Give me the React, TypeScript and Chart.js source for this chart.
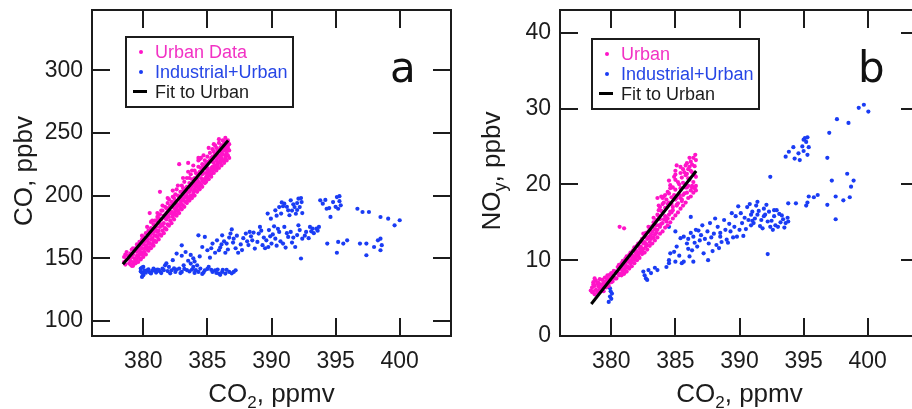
import React, { useEffect, useRef } from 'react';
import { Chart, registerables } from 'chart.js';

Chart.register(...registerables);

// ---------- data ----------
const xTickValues = [380, 385, 390, 395, 400];
const yTickValuesA = [100, 150, 200, 250, 300];
const yTickValuesB = [0, 10, 20, 30, 40];

const legendLabelsA = ['Urban Data', 'Industrial+Urban', 'Fit to Urban'];
const legendLabelsB = ['Urban', 'Industrial+Urban', 'Fit to Urban'];

const fitA: [number, number][] = [[378.41, 145.2], [386.62, 243.9]];
const fitB: [number, number][] = [[378.44, 4.22], [386.62, 21.77]];

const urbanA: [number, number][] = [
  [378.5, 147], [378.5, 151], [378.6, 153], [378.6, 145], [378.7, 149], [378.7, 155], [378.8, 152], [378.9, 146],
  [378.9, 150], [379.0, 154], [379.0, 148], [379.1, 157], [379.1, 151], [379.2, 147], [379.2, 153], [379.3, 156],
  [379.3, 150], [379.4, 158], [379.5, 152], [379.5, 155], [379.6, 160], [379.6, 157], [379.7, 156], [379.7, 163],
  [379.8, 159], [379.9, 165], [380.0, 161], [380.0, 167], [380.1, 163], [380.2, 170], [380.3, 166], [380.3, 164],
  [380.4, 172], [380.5, 168], [380.5, 186], [380.6, 174], [380.7, 170], [380.8, 177], [380.8, 171], [380.9, 173],
  [381.0, 180], [381.0, 175], [381.1, 183], [381.2, 178], [381.2, 182], [381.3, 203], [381.3, 185], [381.4, 181],
  [381.5, 188], [381.6, 184], [381.7, 191], [381.8, 186], [381.8, 190], [381.9, 194], [381.9, 189], [382.0, 197],
  [382.1, 192], [382.2, 187], [382.3, 199], [382.3, 194], [382.4, 190], [382.4, 198], [382.5, 201], [382.5, 196],
  [382.6, 205], [382.6, 191], [382.7, 193], [382.8, 199], [382.8, 225], [382.9, 203], [383.0, 208], [383.0, 197],
  [383.1, 201], [383.1, 206], [383.2, 211], [383.2, 205], [383.3, 199], [383.3, 203], [383.4, 214], [383.4, 207],
  [383.5, 226], [383.5, 203], [383.6, 210], [383.6, 214], [383.7, 217], [383.7, 205], [383.8, 213], [383.9, 209],
  [384.0, 220], [384.0, 214], [384.1, 207], [384.1, 218], [384.2, 217], [384.2, 213], [384.3, 223], [384.3, 211],
  [384.4, 219], [384.4, 229], [384.5, 230], [384.5, 214], [384.6, 225], [384.6, 221], [384.7, 218], [384.8, 228],
  [384.8, 222], [384.9, 215], [384.9, 226], [385.0, 231], [385.0, 225], [385.1, 219], [385.1, 227], [385.2, 234],
  [385.2, 228], [385.3, 222], [385.4, 237], [385.4, 231], [385.5, 226], [385.5, 235], [385.6, 240], [385.6, 233],
  [385.7, 228], [385.7, 238], [385.8, 236], [385.9, 242], [385.9, 231], [386.0, 238], [386.0, 232], [386.1, 234],
  [386.2, 244], [386.2, 240], [386.3, 236], [386.3, 243], [386.4, 246], [386.5, 241], [386.5, 237], [386.6, 244],
  [379.0, 145], [379.1, 144], [379.2, 158], [379.3, 146], [379.4, 148], [379.5, 149], [379.6, 151], [379.7, 153],
  [379.8, 150], [379.8, 155], [379.9, 158], [379.9, 153], [380.0, 155], [380.1, 158], [380.2, 160], [380.3, 159],
  [380.4, 162], [380.5, 162], [380.6, 165], [380.6, 179], [380.7, 166], [380.8, 163], [380.9, 168], [380.9, 180],
  [381.0, 168], [381.1, 171], [381.2, 172], [381.3, 175], [381.4, 188], [381.5, 176], [381.6, 178], [381.7, 182],
  [381.8, 181], [381.9, 184], [382.0, 183], [382.0, 190], [382.1, 186], [382.2, 195], [382.3, 185], [382.4, 186],
  [382.5, 188], [382.6, 190], [382.7, 200], [382.7, 188], [382.8, 192], [382.9, 195], [383.0, 193], [383.0, 203],
  [383.1, 196], [383.2, 198], [383.3, 195], [383.4, 200], [383.5, 198], [383.6, 203], [383.7, 200], [383.8, 207],
  [383.8, 220], [383.9, 203], [384.0, 205], [384.1, 210], [384.2, 208], [384.3, 206], [384.3, 228], [384.4, 210],
  [384.5, 208], [384.5, 222], [384.6, 212], [384.7, 213], [384.7, 224], [384.8, 210], [384.9, 218], [385.0, 214],
  [385.0, 220], [385.1, 216], [385.2, 220], [385.3, 230], [385.3, 217], [385.4, 223], [385.5, 221], [385.5, 230],
  [385.6, 224], [385.7, 222], [385.8, 230], [385.8, 226], [385.9, 236], [386.0, 228], [386.1, 240], [386.1, 230],
  [386.2, 233], [386.3, 228], [386.4, 238], [386.4, 232], [386.5, 234], [386.6, 238], [386.7, 236], [386.7, 241],
  [379.2, 144], [379.4, 146], [379.6, 147], [379.8, 149], [380.0, 151], [380.1, 155], [380.2, 153], [380.3, 157],
  [380.4, 156], [380.5, 159], [380.6, 158], [380.7, 161], [380.8, 160], [380.9, 164], [381.0, 163], [381.1, 167],
  [381.2, 165], [381.3, 169], [381.4, 168], [381.5, 172], [381.6, 170], [381.7, 174], [381.8, 173], [381.9, 177],
  [382.0, 176], [382.1, 180], [382.2, 178], [382.3, 183], [382.4, 181], [382.5, 185], [382.6, 184], [382.7, 187],
  [382.8, 186], [382.9, 190], [383.0, 189], [383.1, 192], [383.2, 191], [383.3, 195], [383.4, 194], [383.5, 197],
  [383.6, 196], [383.7, 199], [383.8, 198], [383.9, 201], [384.0, 200], [384.1, 204], [384.2, 203], [384.3, 207],
  [384.4, 205], [384.5, 209], [384.6, 207], [384.7, 211], [384.8, 213], [384.9, 211], [385.0, 216], [385.1, 213],
  [385.2, 218], [385.3, 215], [385.4, 220], [385.5, 218], [385.6, 222], [385.7, 220], [385.8, 224], [385.9, 222],
  [386.0, 226], [386.1, 224], [386.2, 228], [386.3, 226], [386.4, 230], [386.5, 228], [386.6, 232], [386.7, 230],
  [380.2, 165], [380.6, 169], [381.0, 172], [381.4, 177], [381.8, 182], [382.2, 186], [382.6, 193], [383.0, 198],
  [383.4, 203], [383.8, 209], [384.2, 212], [384.6, 217], [385.0, 222], [385.4, 227], [385.8, 232], [386.2, 237],
  [386.6, 240],
  [379.5, 161], [379.9, 168], [380.3, 175], [380.7, 180], [381.1, 186], [381.5, 192], [381.9, 198], [382.3, 204],
  [382.7, 208], [383.1, 214], [383.5, 219], [383.9, 224], [384.3, 230], [384.7, 232], [385.1, 238], [385.5, 241],
  [385.9, 245],
];

const industrialA: [number, number][] = [
  [379.8, 141.8], [379.9, 135.1], [380.0, 143.1], [379.9, 138.5], [380.0, 136.5], [379.8, 139.5], [380.1, 140.2],
  [380.0, 137.8], [379.9, 142.5],
  [380.3, 140.4], [380.7, 139.9], [381.1, 141.0], [381.5, 141.8], [381.7, 144.4], [382.0, 143.1], [382.2, 140.4],
  [382.5, 139.1], [382.8, 141.8], [383.0, 139.1], [383.15, 144.4], [383.7, 145.8], [383.9, 143.1], [384.2, 144.4],
  [384.3, 139.1], [384.45, 141.8], [384.8, 140.4], [385.1, 143.1], [385.4, 139.1], [385.6, 140.4], [385.9, 137.8],
  [386.15, 139.1], [386.4, 137.8], [386.7, 139.1], [387.05, 139.1], [387.2, 140.4],
  [380.5, 138.8], [380.9, 140.5], [381.3, 139.5], [382.4, 142.0], [383.4, 140.6], [384.0, 138.3], [385.0, 141.5],
  [385.8, 141.0], [386.0, 136.8], [386.5, 140.8], [381.9, 139.8], [384.6, 137.5],
  [380.2, 138.5], [380.4, 141.2], [380.6, 137.9], [380.8, 141.8], [381.0, 138.6], [381.2, 140.8], [381.4, 138.2],
  [381.6, 140.5], [382.1, 138.0], [382.6, 141.0], [382.9, 138.2], [383.2, 141.5], [383.6, 139.5], [383.8, 141.0],
  [384.1, 140.5], [384.7, 138.6], [385.3, 140.8], [385.7, 138.3], [386.2, 140.8], [386.9, 138.0],
  [382.6, 153.7], [383.0, 152.0], [383.0, 160.3], [383.3, 155.0], [383.7, 152.7], [383.9, 150.0], [384.3, 168.3],
  [384.6, 159.0], [384.8, 167.0], [385.0, 156.4], [385.4, 161.7], [385.6, 154.4], [385.75, 164.3], [385.9, 156.4],
  [386.15, 168.3], [386.4, 154.4], [386.5, 161.7], [386.8, 169.7], [386.9, 173.0], [387.05, 165.6], [387.4, 154.4],
  [387.6, 161.0], [388.0, 169.7], [388.3, 171.0], [388.5, 164.3], [388.7, 157.7], [389.0, 169.7], [389.1, 175.0],
  [389.3, 160.4], [389.6, 164.3], [389.75, 159.0], [390.0, 161.7], [390.3, 165.6], [390.6, 171.0], [390.9, 161.7],
  [391.0, 175.0], [391.3, 167.0], [391.5, 171.0], [391.85, 159.0], [392.1, 176.3], [392.4, 165.6], [392.3, 149.8],
  [392.7, 171.0], [393.0, 175.0], [393.2, 173.6], [393.5, 173.6], [393.7, 175.0],
  [384.0, 147.5], [382.3, 148.5], [381.8, 146.0], [385.2, 150.5], [386.0, 158.5], [386.3, 163.5], [387.2, 158.0],
  [387.8, 166.0], [388.2, 160.5], [388.9, 163.0], [389.4, 166.5], [389.9, 167.5], [390.4, 160.0], [390.7, 163.5],
  [391.1, 158.5], [391.6, 162.5], [392.0, 168.5], [392.9, 166.0], [393.3, 170.0], [388.4, 167.5], [387.0, 162.5],
  [386.6, 157.0],
  [383.5, 148.0], [384.4, 151.5], [385.3, 158.0], [386.1, 161.0], [386.7, 166.5], [387.3, 168.0], [387.7, 156.5],
  [388.1, 163.5], [388.6, 170.5], [389.2, 172.0], [389.5, 158.0], [390.1, 169.0], [390.5, 173.5], [391.2, 170.0],
  [391.7, 166.5], [392.2, 172.5], [392.6, 168.0], [393.1, 171.5], [393.6, 172.0], [390.2, 175.5], [389.8, 172.5],
  [389.7, 185.6], [389.95, 181.6], [390.3, 188.2], [390.6, 190.8], [390.75, 185.6], [391.0, 193.5], [391.3, 188.2],
  [391.5, 196.2], [391.8, 190.8], [392.1, 197.5], [392.2, 190.8], [392.35, 194.8], [391.4, 184.3], [393.8, 196.2],
  [394.0, 193.5], [394.3, 189.5], [394.6, 183.0], [394.8, 194.8], [395.1, 198.8], [395.2, 189.5], [395.4, 192.2],
  [396.7, 189.5], [397.1, 186.9], [397.6, 186.9], [398.5, 182.9], [399.1, 181.6], [399.6, 176.3], [400.0, 180.3],
  [391.7, 193.0], [392.0, 188.5], [390.9, 191.5], [395.3, 195.5], [394.5, 190.0], [392.4, 186.0],
  [390.4, 184.0], [390.8, 194.5], [391.2, 191.0], [391.6, 188.0], [392.0, 194.0], [392.3, 198.0], [391.9, 185.5],
  [394.2, 196.5], [395.0, 191.0], [395.3, 199.5],
  [394.35, 161.7], [395.1, 154.4], [395.2, 163.0], [395.6, 161.7], [395.9, 164.3], [396.9, 161.7], [397.4, 161.7],
  [397.4, 152.4], [398.0, 159.0], [398.3, 164.3], [398.5, 165.6], [398.5, 156.4], [398.6, 160.4],
];

const urbanB: [number, number][] = [
  [378.5, 5.8], [378.5, 6.4], [378.6, 7.1], [378.6, 5.9], [378.7, 6.6], [378.7, 5.5], [378.8, 6.1], [378.8, 7.3],
  [378.9, 5.8], [379.0, 6.5], [379.0, 7.0], [379.1, 6.1], [379.2, 6.8], [379.2, 6.3], [379.3, 7.4], [379.3, 6.2],
  [379.4, 6.9], [379.5, 7.7], [379.5, 6.5], [379.6, 7.2], [379.7, 8.0], [379.8, 7.0], [379.9, 7.6], [380.0, 8.3],
  [380.0, 7.1], [380.1, 7.9], [380.2, 8.6], [380.3, 7.6], [380.4, 8.3], [380.5, 9.1], [380.6, 8.0], [380.65, 14.4],
  [380.7, 8.8], [380.8, 9.6], [380.9, 8.5], [381.0, 9.3], [381.0, 14.2], [381.1, 10.2], [381.2, 9.0], [381.3, 9.8],
  [381.4, 10.7], [381.5, 9.6], [381.6, 10.4], [381.7, 11.3], [381.8, 10.1], [381.9, 11.0], [382.0, 11.9],
  [382.0, 11.2], [382.1, 10.6], [382.2, 11.6], [382.3, 12.5], [382.4, 11.2], [382.5, 12.2], [382.6, 13.1],
  [382.7, 11.8], [382.8, 12.8], [382.9, 13.8], [383.0, 12.4], [383.0, 13.1], [383.1, 13.4], [383.2, 14.5],
  [383.3, 13.0], [383.4, 14.1], [383.5, 15.3], [383.5, 13.6], [383.6, 18.2], [383.6, 16.0], [383.7, 14.6],
  [383.7, 15.8], [383.8, 17.0], [383.8, 15.4], [383.9, 18.4], [384.0, 16.3], [384.0, 14.9], [384.0, 17.4],
  [384.1, 17.6], [384.2, 15.8], [384.2, 18.6], [384.3, 16.9], [384.3, 18.0], [384.4, 15.5], [384.4, 19.0],
  [384.5, 17.6], [384.5, 20.5], [384.6, 16.4], [384.7, 18.3], [384.8, 19.6], [384.8, 17.0], [384.9, 21.0],
  [385.0, 18.0], [385.0, 19.3], [385.0, 20.6], [385.1, 22.5], [385.1, 17.2], [385.2, 20.3], [385.3, 18.6],
  [385.4, 21.5], [385.4, 19.5], [385.5, 17.8], [385.6, 22.0], [385.6, 20.2], [385.7, 18.8], [385.8, 21.2],
  [385.9, 22.8], [385.9, 19.6], [386.0, 20.8], [386.0, 22.0], [386.1, 22.3], [386.2, 19.2], [386.2, 23.0],
  [386.3, 21.6], [386.3, 19.8], [386.4, 23.5], [386.5, 22.4], [386.5, 19.5], [386.55, 23.9], [386.6, 21.0],
  [378.4, 6.0], [378.6, 6.8], [378.7, 7.6], [378.9, 6.9], [379.0, 5.9], [379.1, 7.5], [379.3, 6.7], [379.4, 5.9],
  [379.5, 7.1], [379.6, 6.4], [379.7, 7.5], [379.8, 6.6], [379.9, 8.1], [380.0, 7.7], [380.1, 7.2], [380.2, 7.7],
  [380.3, 8.5], [380.4, 7.6], [380.5, 8.4], [380.6, 9.4], [380.7, 8.2], [380.8, 8.9], [380.9, 9.9], [381.0, 8.8],
  [381.1, 9.5], [381.2, 10.5], [381.3, 9.2], [381.4, 10.0], [381.5, 11.0], [381.6, 9.9], [381.7, 10.6],
  [381.8, 11.7], [381.9, 10.4], [382.0, 10.8], [382.1, 12.2], [382.2, 11.0], [382.3, 11.8], [382.4, 12.8],
  [382.5, 11.5], [382.6, 12.4], [382.7, 13.6], [382.8, 12.0], [382.9, 13.0], [383.0, 14.3], [383.1, 12.8],
  [383.2, 13.8], [383.3, 15.0], [383.4, 13.4], [383.5, 14.6], [383.6, 14.0], [383.7, 17.2], [383.8, 14.4],
  [383.9, 16.5], [384.0, 18.2], [384.1, 15.4], [384.2, 16.9], [384.3, 15.1], [384.4, 17.4], [384.5, 16.0],
  [384.5, 18.8], [384.6, 19.5], [384.7, 17.4], [384.8, 16.6], [384.9, 18.6], [385.0, 21.8], [385.1, 18.2],
  [385.2, 17.5], [385.3, 20.0], [385.4, 18.2], [385.5, 20.9], [385.6, 18.6], [385.7, 21.6], [385.8, 19.6],
  [385.9, 21.4], [386.0, 19.8], [386.1, 20.6], [386.2, 21.8], [386.3, 22.6], [386.4, 20.3], [386.5, 21.2],
  [386.6, 23.2], [386.6, 19.8],
  [380.8, 8.0], [381.0, 8.2], [381.2, 8.5], [381.4, 8.9], [381.6, 9.2], [381.8, 9.6], [382.0, 10.0], [382.2, 10.3],
  [382.4, 10.8], [382.6, 11.0], [382.8, 11.4], [383.0, 11.9], [383.2, 12.2], [383.4, 12.6], [383.6, 13.0],
  [383.8, 13.5], [384.0, 13.8], [384.2, 14.3], [384.4, 14.6], [384.6, 15.0], [384.8, 15.5], [385.0, 15.9],
  [385.2, 16.3], [385.4, 16.8], [385.6, 17.2], [385.8, 17.6], [386.0, 18.2], [386.2, 18.4], [386.4, 18.9],
  [386.6, 19.2],
  [381.1, 9.0], [381.5, 9.7], [381.9, 10.5], [382.3, 11.4], [382.7, 12.2], [383.1, 13.0], [383.5, 14.0],
  [383.9, 14.8], [384.3, 15.6], [384.7, 16.3], [385.1, 17.3], [385.5, 18.0], [385.9, 18.9], [386.3, 19.6],
  [382.5, 13.5], [382.9, 14.4], [383.3, 15.6], [383.7, 16.6], [384.1, 18.4], [384.6, 19.9], [385.0, 21.3],
  [385.4, 22.3], [385.8, 22.5], [386.1, 23.5],
];

const industrialB: [number, number][] = [
  [379.9, 6.3], [379.9, 5.2], [379.8, 4.5], [380.05, 5.6], [379.95, 5.9], [380.0, 4.9],
  [382.5, 8.5], [382.9, 8.7], [382.7, 7.6], [382.8, 7.4], [383.6, 8.7], [382.6, 8.0], [383.1, 8.3], [383.4, 9.0],
  [384.3, 9.1], [384.5, 10.0], [385.5, 9.6], [384.9, 11.1], [384.6, 10.9], [385.0, 9.8], [384.5, 9.6], [385.65, 9.8],
  [386.4, 9.8], [386.1, 10.5], [387.55, 10.0], [384.5, 14.4], [386.2, 15.7], [385.0, 13.8], [385.65, 13.1],
  [385.9, 12.2], [386.4, 13.1], [386.7, 11.8], [386.9, 12.6], [387.2, 10.9], [387.6, 12.2], [385.1, 11.8],
  [386.0, 12.8], [386.2, 13.6], [386.5, 12.3], [387.0, 13.3], [387.3, 12.8], [386.8, 13.9], [385.4, 12.9],
  [386.3, 11.3],
  [388.0, 13.5], [388.3, 14.4], [388.5, 13.1], [388.8, 15.3], [389.0, 12.7], [389.3, 13.8], [389.6, 14.4],
  [389.8, 13.1], [390.1, 16.2], [390.2, 14.9], [390.5, 14.1], [390.6, 17.0], [390.7, 15.3], [391.0, 16.4],
  [391.1, 14.9], [391.4, 16.0], [391.6, 14.5], [391.7, 15.3], [391.9, 16.8], [392.2, 15.1], [392.4, 14.4],
  [392.7, 15.8], [392.9, 16.6], [393.2, 15.0], [393.4, 15.4], [393.75, 15.6], [388.5, 13.6], [389.1, 12.3],
  [391.4, 17.7], [390.8, 17.4], [392.7, 16.6], [389.9, 17.1], [387.8, 13.0], [388.2, 12.0], [389.2, 14.8],
  [389.5, 13.0], [390.0, 14.0], [390.4, 15.6], [391.2, 15.5], [391.8, 14.2], [392.0, 16.0], [392.5, 15.2],
  [393.0, 14.4], [393.3, 15.9], [393.6, 14.9], [390.9, 16.0], [391.5, 16.5], [392.1, 17.3], [388.9, 14.0],
  [387.5, 13.8], [389.7, 15.8], [392.8, 14.6],
  [386.6, 14.0], [387.1, 14.6], [387.7, 14.9], [388.1, 15.5], [388.6, 12.4], [389.4, 16.2], [390.3, 13.2],
  [390.9, 14.6], [391.3, 17.2], [391.9, 15.8], [392.3, 16.4], [392.6, 14.0], [393.1, 16.1], [393.5, 14.3],
  [393.8, 15.1], [388.4, 11.6], [387.9, 11.2], [386.0, 11.5], [385.3, 10.6], [391.0, 15.2],
  [392.2, 10.8], [392.4, 21.0],
  [393.6, 23.65], [393.85, 24.3], [394.2, 24.9], [394.3, 23.4], [394.6, 24.1], [394.7, 23.2], [394.9, 25.0],
  [395.0, 25.9], [395.1, 26.1], [395.3, 26.2], [395.2, 25.6], [395.4, 24.9], [395.3, 23.9], [395.0, 24.4],
  [396.85, 23.5], [397.0, 26.8], [397.6, 28.6], [398.5, 28.1], [399.3, 30.1], [399.7, 30.5], [400.05, 29.6],
  [393.8, 17.5], [394.4, 17.5], [395.4, 18.4], [396.1, 18.6], [395.2, 17.2], [396.85, 17.3], [397.5, 18.4],
  [397.2, 20.5], [398.4, 21.4], [398.9, 20.5], [398.7, 19.7], [398.6, 18.3], [398.1, 17.9], [397.5, 15.4],
  [395.3, 17.6], [395.8, 18.3],
];

// ---------- styles ----------
const PINK = '#ff14c8';
const BLUE = '#1a3cf4';
const PINK_TEXT = '#f232c4';
const BLUE_TEXT = '#2646e6';
const INK = '#1c1c1c';
const SANS = '"Liberation Sans", Arial, Helvetica, sans-serif';
const TICK = 18;

type Part = [string, boolean];

interface PanelSpec {
  name: string;
  urban: [number, number][];
  industrial: [number, number][];
  fit: [number, number][];
  yMin: number;
  yMax: number;
  yTicks: number[];
  yAxisWidth: number;
  padRight: number;
  legend: string[];
  legendDx: number;
  legendDy: number;
  legendW: number;
  letter: string;
  yTitle: Part[];
}

function drawParts(ctx: CanvasRenderingContext2D, parts: Part[], cx: number, y: number, size: number, subSize: number, subDy: number) {
  const widths = parts.map(([t, sub]) => {
    ctx.font = `${sub ? subSize : size}px ${SANS}`;
    return ctx.measureText(t).width;
  });
  const total = widths.reduce((a, b) => a + b, 0);
  let x = cx - total / 2;
  ctx.textAlign = 'left';
  ctx.textBaseline = 'alphabetic';
  parts.forEach(([t, sub], i) => {
    ctx.font = `${sub ? subSize : size}px ${SANS}`;
    ctx.fillText(t, x, y + (sub ? subDy : 0));
    x += widths[i];
  });
}

function overlayPlugin(p: PanelSpec) {
  return {
    id: 'overlay' + p.name,
    afterDraw(chart: any) {
      const ctx: CanvasRenderingContext2D = chart.ctx;
      const ca = chart.chartArea;
      const xs = chart.scales.x;
      const ys = chart.scales.y;
      ctx.save();
      // frame
      ctx.strokeStyle = INK;
      ctx.lineWidth = 2;
      ctx.strokeRect(ca.left, ca.top, ca.right - ca.left, ca.bottom - ca.top);
      // inward ticks on all four sides
      ctx.beginPath();
      xs.ticks.forEach((t: any) => {
        const px = Math.round(xs.getPixelForValue(t.value));
        ctx.moveTo(px, ca.bottom);
        ctx.lineTo(px, ca.bottom - TICK);
        ctx.moveTo(px, ca.top);
        ctx.lineTo(px, ca.top + TICK);
      });
      ys.ticks.forEach((t: any) => {
        const py = Math.round(ys.getPixelForValue(t.value));
        ctx.moveTo(ca.left, py);
        ctx.lineTo(ca.left + TICK, py);
        ctx.moveTo(ca.right, py);
        ctx.lineTo(ca.right - TICK, py);
      });
      ctx.stroke();

      // legend
      const bx = ca.left + p.legendDx;
      const by = ca.top + p.legendDy;
      ctx.lineWidth = 2;
      ctx.strokeStyle = INK;
      ctx.strokeRect(bx, by, p.legendW, 70);
      const ds = chart.data.datasets;
      const rows = [
        { label: p.legend[0], color: PINK_TEXT, mark: ds[1].backgroundColor, line: false },
        { label: p.legend[1], color: BLUE_TEXT, mark: ds[2].backgroundColor, line: false },
        { label: p.legend[2], color: INK, mark: ds[0].borderColor, line: true },
      ];
      ctx.font = `18px ${SANS}`;
      ctx.textAlign = 'left';
      ctx.textBaseline = 'alphabetic';
      rows.forEach((r, i) => {
        const base = by + 21 + i * 20;
        if (r.line) {
          ctx.strokeStyle = r.mark;
          ctx.lineWidth = 3;
          ctx.beginPath();
          ctx.moveTo(bx + 7, base - 6.5);
          ctx.lineTo(bx + 21, base - 6.5);
          ctx.stroke();
        } else {
          ctx.fillStyle = r.mark;
          ctx.beginPath();
          ctx.arc(bx + 15, base - 6, 2, 0, Math.PI * 2);
          ctx.fill();
        }
        ctx.fillStyle = r.color;
        ctx.fillText(r.label, bx + 29, base);
      });

      // panel letter
      ctx.fillStyle = '#111';
      ctx.font = '42px "DejaVu Sans", Verdana, sans-serif';
      ctx.fillText(p.letter, ca.left + 298, ca.top + 72);

      // x title
      ctx.fillStyle = INK;
      drawParts(ctx, [['CO', false], ['2', true], [', ppmv', false]], (ca.left + ca.right) / 2, 402, 26, 17, 6);

      // y title (rotated)
      ctx.save();
      ctx.translate(ca.left - 60.5, (ca.top + ca.bottom) / 2 - 2);
      ctx.rotate(-Math.PI / 2);
      drawParts(ctx, p.yTitle, 0, 0, 26, 18, 6);
      ctx.restore();

      ctx.restore();
    },
  };
}

function makeChart(canvas: HTMLCanvasElement, p: PanelSpec) {
  const pts = (arr: [number, number][]) => arr.map(([x, y]) => ({ x, y }));
  return new Chart(canvas, {
    type: 'scatter',
    data: {
      datasets: [
        {
          label: p.legend[2],
          data: pts(p.fit),
          showLine: true,
          borderColor: '#000000',
          backgroundColor: '#000000',
          borderWidth: 3,
          pointRadius: 0,
          order: 0,
        } as any,
        {
          label: p.legend[0],
          data: pts(p.urban),
          backgroundColor: PINK,
          borderWidth: 0,
          pointRadius: 2.1,
          order: 1,
        },
        {
          label: p.legend[1],
          data: pts(p.industrial),
          backgroundColor: BLUE,
          borderWidth: 0,
          pointRadius: 2.1,
          order: 2,
        },
      ],
    },
    options: {
      responsive: false,
      animation: false,
      devicePixelRatio: 1,
      layout: { padding: { left: 0, top: 10, right: p.padRight, bottom: 0 } },
      plugins: { legend: { display: false }, tooltip: { enabled: false } },
      scales: {
        x: {
          type: 'linear',
          position: 'bottom',
          min: 376,
          max: 404,
          grid: { display: false, drawTicks: false },
          border: { display: false },
          afterBuildTicks: (s: any) => {
            s.ticks = xTickValues.map((v) => ({ value: v }));
          },
          afterFit: (s: any) => {
            s.height = 73;
            s.paddingLeft = 0;
            s.paddingRight = 0;
          },
          ticks: {
            font: { family: SANS, size: 23 },
            color: INK,
            padding: 12,
            maxRotation: 0,
            autoSkip: false,
          },
        },
        y: {
          type: 'linear',
          position: 'left',
          min: p.yMin,
          max: p.yMax,
          grid: { display: false, drawTicks: false },
          border: { display: false },
          afterBuildTicks: (s: any) => {
            s.ticks = p.yTicks.map((v) => ({ value: v }));
          },
          afterFit: (s: any) => {
            s.width = p.yAxisWidth;
            s.paddingTop = 0;
            s.paddingBottom = 0;
          },
          ticks: {
            font: { family: SANS, size: 23 },
            color: INK,
            padding: 9,
            autoSkip: false,
          },
        },
      },
    } as any,
    plugins: [overlayPlugin(p)],
  });
}

const panelA: PanelSpec = {
  name: 'A',
  urban: urbanA,
  industrial: industrialA,
  fit: fitA,
  yMin: 88,
  yMax: 348,
  yTicks: yTickValuesA,
  yAxisWidth: 92,
  padRight: 5,
  legend: legendLabelsA,
  legendDx: 34,
  legendDy: 27,
  legendW: 167,
  letter: 'a',
  yTitle: [['CO, ppbv', false]],
};

const panelB: PanelSpec = {
  name: 'B',
  urban: urbanB,
  industrial: industrialB,
  fit: fitB,
  yMin: 0,
  yMax: 43,
  yTicks: yTickValuesB,
  yAxisWidth: 104,
  padRight: 7,
  legend: legendLabelsB,
  legendDx: 32,
  legendDy: 29,
  legendW: 167,
  letter: 'b',
  yTitle: [['NO', false], ['y', true], [', ppbv', false]],
};

export default function App() {
  const refA = useRef<HTMLCanvasElement>(null);
  const refB = useRef<HTMLCanvasElement>(null);

  useEffect(() => {
    const charts: Chart[] = [];
    if (refA.current) charts.push(makeChart(refA.current, panelA));
    if (refB.current) charts.push(makeChart(refB.current, panelB));
    return () => charts.forEach((c) => c.destroy());
  }, []);

  return (
    <div
      style={{
        position: 'fixed',
        left: 0,
        top: 0,
        width: 912,
        height: 409,
        overflow: 'hidden',
        background: '#ffffff',
      }}
    >
      <canvas ref={refA} width={456} height={409} style={{ position: 'absolute', left: 0, top: 0 }} />
      <canvas ref={refB} width={470} height={409} style={{ position: 'absolute', left: 456, top: 0 }} />
    </div>
  );
}
